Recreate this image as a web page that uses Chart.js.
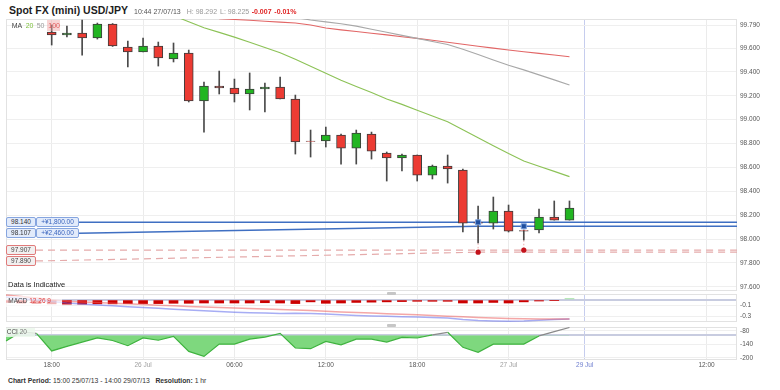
<!DOCTYPE html>
<html><head><meta charset="utf-8">
<script src="https://cdn.jsdelivr.net/npm/chart.js@4.4.1/dist/chart.umd.min.js"></script>
<style>
html,body{margin:0;padding:0;background:#fff;}
body{width:780px;height:390px;position:relative;overflow:hidden;font-family:"Liberation Sans",Arial,sans-serif;}
.t{position:absolute;white-space:nowrap;line-height:1;}
canvas{position:absolute;left:0;}
.box{position:absolute;box-sizing:border-box;height:10px;border:1px solid;border-radius:2px;font-size:6.5px;line-height:8px;text-align:center;white-space:nowrap;}
.handle{position:absolute;width:9px;height:3px;background:#c6c6c6;border-radius:1px;}
</style></head><body>
<canvas id="cMain" width="780" height="272" style="top:19px"></canvas>
<canvas id="cMacd" width="780" height="28" style="top:294px"></canvas>
<canvas id="cCci" width="780" height="45" style="top:327px"></canvas>

<div class="t" style="left:9px;top:5.1px;font-size:10.5px;font-weight:bold;color:#1d1d1d">Spot FX (mini) USD/JPY</div>
<div class="t" style="left:134px;top:8.1px;font-size:7px;color:#555">10:44 27/07/13</div>
<div class="t" style="left:186.7px;top:8.1px;font-size:7px;color:#999">H: 98.292</div>
<div class="t" style="left:220px;top:8.1px;font-size:7px;color:#999">L: 98.225</div>
<div class="t" style="left:251.7px;top:8.1px;font-size:7px;color:#e02424;font-weight:bold">-0.007</div>
<div class="t" style="left:274.3px;top:8.1px;font-size:7px;color:#e02424;font-weight:bold">-0.01%</div>

<div style="position:absolute;left:46.7px;top:19.5px;width:13.3px;height:11px;background:rgba(240,160,160,0.45)"></div>
<div class="t" style="left:11.7px;top:22.4px;font-size:7px;color:#444">MA</div>
<div class="t" style="left:25.7px;top:22.4px;font-size:7px;color:#7cbf3c">20</div>
<div class="t" style="left:36.7px;top:22.4px;font-size:7px;color:#999">50</div>
<div class="t" style="left:48.3px;top:22.4px;font-size:7px;color:#e05a5a">100</div>

<div class="t" style="left:8px;top:280.6px;font-size:7.5px;color:#222">Data is Indicative</div>

<div class="handle" style="left:386.5px;top:291.5px"></div>
<div class="handle" style="left:386.5px;top:323.8px"></div>

<div style="position:absolute;left:6px;top:296px;width:56px;height:11px;background:rgba(255,255,255,0.7)"></div>
<div class="t" style="left:8.3px;top:298.2px;font-size:6.5px;color:#444">MACD <span style="color:#e04040">12 26 9</span></div>
<div style="position:absolute;left:6px;top:327.5px;width:29px;height:9.5px;background:rgba(236,248,236,0.85)"></div>
<div class="t" style="left:6.7px;top:329px;font-size:6.5px;color:#444">CCI <span style="color:#777">20</span></div>

<div class="t" style="left:8px;top:378px;font-size:6.8px;color:#333"><b>Chart Period:</b> 15:00 25/07/13 - 14:00 29/07/13 &nbsp;&nbsp;<b>Resolution:</b> 1 hr</div>

<div id="boxes"></div>

<script>
// ---------- categories (hourly slots, weekend compressed) ----------
const hours = [
 '25 15:00','25 16:00','25 17:00','25 18:00','25 19:00','25 20:00','25 21:00','25 22:00','25 23:00',
 '26 00:00','26 01:00','26 02:00','26 03:00','26 04:00','26 05:00','26 06:00','26 07:00','26 08:00','26 09:00','26 10:00','26 11:00',
 '26 12:00','26 13:00','26 14:00','26 15:00','26 16:00','26 17:00','26 18:00','26 19:00','26 20:00','26 21:00','26 22:00','26 23:00',
 '27 00:00','27 01:00','27 02:00','27 03:00','27 04:00',
 '29 04:00','29 05:00','29 06:00','29 07:00','29 08:00','29 09:00','29 10:00','29 11:00','29 12:00','29 13:00','29 14:00'
];
const tickSlots = [3, 9, 15, 21, 27, 33, 38, 46];
const tickTexts = ['18:00', '26 Jul', '06:00', '12:00', '18:00', '27 Jul', '29 Jul', '12:00'];

// ---------- price candles ----------
const open  = [null,null,null, 99.734,99.709,99.726,99.684,99.801,99.608,99.567,99.617,99.508,99.558,99.156,99.282,99.265,99.215,99.257,99.273,99.173,98.821,98.821,98.871,98.762,98.880,98.721,98.679,98.704,98.536,98.612,98.578,98.138,98.134,98.235,98.072,98.076,98.185,98.159];
const high  = [null,null,null, 99.793,99.784,99.835,99.809,99.805,99.659,99.684,99.650,99.642,99.583,99.315,99.407,99.340,99.391,99.307,99.357,99.206,98.913,98.938,98.880,98.913,98.896,98.729,98.712,98.704,98.620,98.704,98.587,98.277,98.352,98.285,98.076,98.252,98.319,98.319];
const low   = [null,null,null, 99.625,99.692,99.541,99.675,99.613,99.441,99.567,99.449,99.483,99.148,98.896,99.215,99.148,99.081,99.064,99.173,98.712,98.687,98.771,98.628,98.628,98.670,98.486,98.570,98.486,98.503,98.469,98.059,97.967,98.084,98.059,97.992,98.051,98.159,98.159];
const close = [null,null,null, 99.709,99.726,99.684,99.801,99.617,99.567,99.617,99.516,99.558,99.156,99.282,99.265,99.215,99.257,99.273,99.173,98.813,98.817,98.871,98.762,98.888,98.737,98.679,98.704,98.536,98.612,98.587,98.134,98.134,98.235,98.067,98.067,98.185,98.159,98.260];

// ---------- moving averages ----------
const ma20  = [null,null,null,null,null,null,null,null,null,null,null, 99.872,99.819,99.769,99.731,99.691,99.649,99.605,99.561,99.505,99.447,99.389,99.331,99.278,99.227,99.173,99.128,99.079,99.030,98.982,98.916,98.848,98.782,98.716,98.654,98.610,98.567,98.523];
const ma50  = [null,null,null,null,null,null,null,null,null,null,null,null,null,null,null,null,null,null, 99.868,99.855,99.835,99.819,99.803,99.783,99.757,99.732,99.706,99.681,99.655,99.630,99.590,99.546,99.500,99.456,99.417,99.375,99.333,99.291];
const ma100 = [null,null,null,null,null,null,null,null,null,null,null,null,null,null, 99.846,99.839,99.832,99.824,99.817,99.809,99.793,99.767,99.752,99.738,99.724,99.710,99.695,99.681,99.665,99.648,99.632,99.615,99.599,99.583,99.569,99.555,99.541,99.527];

// ---------- open orders ----------
const entrySlots  = [31, 34];
const entryPrices = [98.140, 98.107];
const stopPrices  = [97.890, 97.907];
const entryPnL    = ['+¥1,800.00', '+¥2,460.00'];

// ---------- MACD 12 26 9 ----------
const macdLine   = [0.046,0.019,-0.007,-0.033,-0.060,-0.077,-0.095,-0.109,-0.125,-0.139,-0.154,-0.168,-0.183,-0.197,-0.211,-0.223,-0.230,-0.237,-0.244,-0.240,-0.246,-0.254,-0.267,-0.279,-0.286,-0.293,-0.300,-0.305,-0.314,-0.323,-0.349,-0.367,-0.375,-0.379,-0.375,-0.363,-0.351,-0.340];
const macdSignal = [0.081,0.054,0.028,-0.002,-0.030,-0.042,-0.051,-0.063,-0.075,-0.086,-0.098,-0.109,-0.121,-0.130,-0.139,-0.147,-0.156,-0.165,-0.174,-0.183,-0.193,-0.204,-0.216,-0.226,-0.237,-0.247,-0.258,-0.267,-0.279,-0.291,-0.302,-0.314,-0.323,-0.332,-0.337,-0.340,-0.340,-0.340];
const macdHist   = [-0.05,-0.06,-0.07,-0.075,-0.08,-0.08,-0.075,-0.075,-0.07,-0.07,-0.07,-0.065,-0.065,-0.06,-0.06,-0.06,-0.06,-0.055,-0.06,-0.07,-0.04,-0.065,-0.06,-0.05,-0.045,-0.04,-0.035,-0.03,-0.03,-0.03,-0.06,-0.06,-0.05,-0.06,-0.04,-0.025,-0.015,0.012];

// ---------- CCI 20 ----------
const cci = [-125,-85,-92,-169,-149,-130,-112,-123,-146,-112,-122,-105,-171,-193,-139,-139,-117,-108,-92,-156,-159,-127,-142,-117,-117,-130,-109,-112,-98,-87,-153,-175,-139,-139,-139,-103,-84,-66];

// ---------- axis ticks ----------
const priceTicks = [97.6, 97.8, 98.0, 98.2, 98.4, 98.6, 98.8, 99.0, 99.2, 99.4, 99.6, 99.79];
const macdTicks  = [-0.3, -0.1, 0];
const cciTicks   = [-200, -140, -100, -80];

const FONT = "'Liberation Sans', Arial, sans-serif";
Chart.defaults.font.family = FONT;
Chart.defaults.animation = false;
Chart.defaults.events = [];
Chart.defaults.plugins.legend.display = false;
Chart.defaults.plugins.tooltip.enabled = false;

const LAYOUT = { autoPadding: false, padding: { left: 6, right: 0, top: 0, bottom: 0 } };

function xScaleOpts(showTicks){
  return {
    type: 'category', offset: false,
    grid: { offset: false, drawTicks: false, lineWidth: 1,
      color: c => { const k = tickSlots.indexOf(c.index); if (k < 0) return 'rgba(0,0,0,0)';
        return tickTexts[k] === '29 Jul' ? '#c6cdee' : '#ebebeb'; } },
    border: { display: false },
    ticks: { display: showTicks, autoSkip: false, maxRotation: 0, minRotation: 0, padding: 1,
      font: { family: FONT, size: 6.5 },
      color: c => { const k = tickSlots.indexOf(c.index); if (k < 0) return '#555';
        const t = tickTexts[k]; return t === '29 Jul' ? '#6f7fcf' : (t.indexOf('Jul') > 0 ? '#a0a0a0' : '#555'); },
      callback: (v, i) => { const k = tickSlots.indexOf(i); return k < 0 ? '' : tickTexts[k]; } },
    afterFit: s => { s.height = showTicks ? 12 : 0; s.paddingLeft = 0; s.paddingRight = 0; }
  };
}
function yScaleOpts(min, max, vals, fmt, special){
  return {
    position: 'right', min: min, max: max, beginAtZero: false,
    afterBuildTicks: s => { s.ticks = vals.map(v => ({ value: v })); },
    afterFit: s => { s.width = 43; s.paddingTop = 0; s.paddingBottom = 0; },
    grid: { drawTicks: false,
      color: c => (c.tick && c.tick.value === special) ? '#c8cce0' : '#efefef',
      lineWidth: c => (c.tick && c.tick.value === special) ? 2 : 1 },
    border: { display: false },
    ticks: { padding: 3, autoSkip: false, color: '#555', font: { family: FONT, size: 6.5 },
      callback: v => v === special ? '' : fmt(v) }
  };
}
const framePlugin = { id: 'frame', beforeDatasetsDraw(chart){
  const { ctx, chartArea: a } = chart; ctx.save(); ctx.strokeStyle = '#e2e2e2'; ctx.lineWidth = 1;
  ctx.strokeRect(a.left + 0.5, a.top + 0.5, a.right - a.left - 1, a.bottom - a.top - 1); ctx.restore(); } };

function stackLabels(prices, y){
  const items = prices.map((p, i) => ({ p: p, i: i, yl: y.getPixelForValue(p) })).sort((a, b) => a.yl - b.yl);
  let prev = -1e9;
  items.forEach(it => { it.yb = Math.max(it.yl, prev + 10.8); prev = it.yb; });
  return items;
}
const leaderPlugin = { id: 'leaders', beforeDatasetsDraw(chart){
  const { ctx, scales: { x, y } } = chart;
  const xe = x.getPixelForValue(entrySlots[0]);
  ctx.save();
  ctx.lineWidth = 1.5; ctx.strokeStyle = '#3f6fc2'; ctx.setLineDash([]);
  stackLabels(entryPrices, y).forEach(it => { ctx.beginPath(); ctx.moveTo(79, it.yb); ctx.lineTo(xe, it.yl); ctx.stroke(); });
  ctx.lineWidth = 1.2; ctx.strokeStyle = '#e5abab'; ctx.setLineDash([7, 5]);
  stackLabels(stopPrices, y).forEach(it => { ctx.beginPath(); ctx.moveTo(36, it.yb); ctx.lineTo(xe, it.yl); ctx.stroke(); });
  ctx.lineWidth = 1; ctx.strokeStyle = '#e9a8a8'; ctx.setLineDash([1.5, 2]);
  entrySlots.forEach((s, k) => { const xx = x.getPixelForValue(s);
    ctx.beginPath(); ctx.moveTo(xx, y.getPixelForValue(entryPrices[k])); ctx.lineTo(xx, y.getPixelForValue(stopPrices[k])); ctx.stroke(); });
  ctx.restore(); } };

const RED = '#ec3b33', GREEN = '#22b522';
const levelSeries = lv => hours.map((h, i) => i >= entrySlots[0] ? lv : null);
const markSeries = prices => hours.map((h, i) => { const k = entrySlots.indexOf(i); return k < 0 ? null : prices[k]; });

const mainChart = new Chart(document.getElementById('cMain'), {
  type: 'bar',
  data: { labels: hours, datasets: [
    { type: 'line', data: markSeries(entryPrices), showLine: false, pointStyle: 'rect', pointRadius: 3.6,
      pointBackgroundColor: '#1f4f9f', pointBorderColor: '#7fa3dd', pointBorderWidth: 1, order: 0 },
    { type: 'line', data: markSeries(stopPrices), showLine: false, pointStyle: 'circle', pointRadius: 2.6,
      pointBackgroundColor: '#c3121b', pointBorderColor: '#c3121b', pointBorderWidth: 0, order: 0 },
    { type: 'line', data: ma20, borderColor: '#8cc256', borderWidth: 1.1, pointRadius: 0, tension: 0, order: 1 },
    { type: 'line', data: ma50, borderColor: '#a8a8a8', borderWidth: 1.1, pointRadius: 0, tension: 0, order: 1 },
    { type: 'line', data: ma100, borderColor: '#e26666', borderWidth: 1.1, pointRadius: 0, tension: 0, order: 1 },
    { type: 'bar', data: open.map((o, i) => o == null ? null : [o, close[i]]),
      backgroundColor: open.map((o, i) => o == null ? RED : (close[i] >= o ? GREEN : RED)),
      borderColor: '#3d3d3d', borderWidth: 1, borderSkipped: false, barThickness: 9, grouped: false, order: 2 },
    { type: 'bar', data: low.map((l, i) => l == null ? null : [l, high[i]]),
      backgroundColor: '#4a4a4a', barThickness: 1, grouped: false, order: 3 },
    { type: 'line', data: levelSeries(entryPrices[0]), borderColor: '#3f6fc2', borderWidth: 1.5, pointRadius: 0, order: 4 },
    { type: 'line', data: levelSeries(entryPrices[1]), borderColor: '#3f6fc2', borderWidth: 1.5, pointRadius: 0, order: 4 },
    { type: 'line', data: levelSeries(stopPrices[0]), borderColor: '#e5abab', borderWidth: 1.2, borderDash: [7, 5], pointRadius: 0, order: 4 },
    { type: 'line', data: levelSeries(stopPrices[1]), borderColor: '#e5abab', borderWidth: 1.2, borderDash: [7, 5], pointRadius: 0, order: 4 }
  ] },
  options: { responsive: false, layout: LAYOUT,
    scales: { x: xScaleOpts(false), y: yScaleOpts(97.565, 99.843, priceTicks, v => v.toFixed(3), null) } },
  plugins: [framePlugin, leaderPlugin]
});

new Chart(document.getElementById('cMacd'), {
  type: 'bar',
  data: { labels: hours, datasets: [
    { type: 'line', data: macdSignal, borderColor: 'rgba(235,95,95,0.55)', borderWidth: 1.5, pointRadius: 0, order: 1 },
    { type: 'line', data: macdLine, borderColor: 'rgba(95,105,235,0.55)', borderWidth: 1.5, pointRadius: 0, order: 1 },
    { type: 'bar', data: macdHist, backgroundColor: macdHist.map(v => v >= 0 ? '#9fe09f' : '#cc0000'),
      barThickness: 9, grouped: false, order: 2 }
  ] },
  options: { responsive: false, layout: LAYOUT,
    scales: { x: xScaleOpts(false), y: yScaleOpts(-0.393, 0.098, macdTicks, v => v.toFixed(1), 0) } },
  plugins: [framePlugin]
});

new Chart(document.getElementById('cCci'), {
  type: 'line',
  data: { labels: hours, datasets: [
    { data: cci, borderWidth: 1.2, pointRadius: 0, tension: 0,
      fill: { target: { value: -100 }, above: 'rgba(0,0,0,0)', below: '#7ed87e' },
      segment: { borderColor: s => ((s.p0.parsed.y + s.p1.parsed.y) / 2 > -100 ? '#8a8a8a' : '#3fb33f') } }
  ] },
  options: { responsive: false, layout: LAYOUT,
    scales: { x: xScaleOpts(true), y: yScaleOpts(-208.8, -63.7, cciTicks, v => String(v), -100) } },
  plugins: [framePlugin]
});

// ---------- order / stop label boxes, positioned from the price scale ----------
(function(){
  const y = mainChart.scales.y, top0 = 19, host = document.getElementById('boxes');
  const add = (left, width, cy, txt, bg, bd, col) => {
    const d = document.createElement('div'); d.className = 'box';
    d.style.left = left + 'px'; d.style.width = width + 'px'; d.style.top = (top0 + cy - 5) + 'px';
    d.style.background = bg; d.style.borderColor = bd; d.style.color = col; d.textContent = txt; host.appendChild(d);
  };
  stackLabels(entryPrices, y).forEach(it => {
    add(6, 30, it.yb, it.p.toFixed(3), '#e2ebfb', '#86a5df', '#333');
    add(36, 43, it.yb, entryPnL[it.i], '#e2ebfb', '#86a5df', '#3a64bd');
  });
  stackLabels(stopPrices, y).forEach(it => {
    add(6, 30, it.yb, it.p.toFixed(3), '#f2efef', '#e07a7a', '#444');
  });
})();
</script>
</body></html>
